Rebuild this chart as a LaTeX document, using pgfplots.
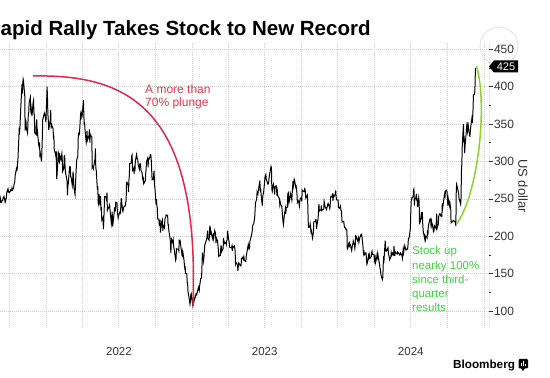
\documentclass[border=0pt]{standalone}
\usepackage{pgfplots}
\pgfplotsset{compat=1.18}
\usepgfplotslibrary{dateplot}
\usepackage{fontspec}
\setmainfont{Liberation Sans}
\definecolor{redarc}{RGB}{226,40,72}
\definecolor{redtxt}{RGB}{232,56,72}
\definecolor{greenarc}{RGB}{140,212,40}
\definecolor{greentxt}{RGB}{60,214,60}
\definecolor{tickgray}{RGB}{51,51,51}
\definecolor{gridgray}{RGB}{205,205,205}
\begin{document}
\begin{tikzpicture}[x=1pt,y=1pt]
\path[use as bounding box] (0,0) rectangle (550,378);
% faint share icon behind the axis
\draw[black!10, line width=1pt] (499,332) circle (19);
\draw[black!14, line width=0.8pt] (494,327) -- (501,334) (497.5,334) -- (501,334) -- (501,330.5);
\begin{axis}[
  at={(0pt,50pt)}, anchor=south west,
  scale only axis, width=489pt, height=286pt,
  date coordinates in=x,
  xmin=2021-09-07, xmax=2025-01-14,
  ymin=77.3, ymax=459.7,
  xtick={2022-07-02,2023-07-02,2024-07-02},
  xticklabels={2022,2023,2024},
  minor xtick={2021-10-01,2022-01-01,2022-04-01,2022-07-01,2022-10-01,2023-01-01,2023-04-01,2023-07-01,2023-10-01,2024-01-01,2024-04-01,2024-07-01,2024-10-01,2025-01-01},
  xminorgrids=true, xmajorgrids=false,
  ytick={100,150,...,450},
  minor ytick={125,175,...,425},
  ymajorgrids=true,
  grid style={gridgray, line width=0.6pt, dash pattern=on 0.8pt off 1.2pt},
  minor grid style={gridgray, line width=0.6pt, dash pattern=on 0.8pt off 1.2pt},
  axis line style={draw=none},
  ytick pos=right, yticklabel pos=right,
  tick align=outside,
  major tick length=3.5pt, minor tick length=2pt,
  xtick style={draw=none},
  ytick style={tickgray, line width=0.6pt},
  /pgf/number format/assume math mode=true,
  yticklabel style={font=\fontsize{12}{14}\selectfont, text=tickgray, xshift=-2pt},
  xticklabel style={font=\fontsize{11.5}{14}\selectfont, text=tickgray, yshift=-12pt},
]
\addplot[black, line width=1pt] coordinates {
(2021-09-07,244.7) (2021-09-08,250.7) (2021-09-09,248.4) (2021-09-10,245.4) (2021-09-13,247.6) (2021-09-14,248.4) (2021-09-15,251.9) (2021-09-16,252.2) (2021-09-17,253.3) (2021-09-20,245.4) (2021-09-21,246.9) (2021-09-22,250.6) (2021-09-23,251.1) (2021-09-24,258.6) (2021-09-27,263.3) (2021-09-28,259.6) (2021-09-29,260.1) (2021-09-30,258.5)
(2021-10-01,258.4) (2021-10-04,261.8) (2021-10-05,260.8) (2021-10-06,261.2) (2021-10-07,264.5) (2021-10-08,261.8) (2021-10-11,264.2) (2021-10-12,268.7) (2021-10-13,271.1) (2021-10-14,272.7) (2021-10-15,281.0) (2021-10-18,290.0) (2021-10-19,288.1) (2021-10-20,288.6) (2021-10-21,298.0) (2021-10-22,303.2) (2021-10-25,341.6) (2021-10-26,339.5) (2021-10-27,345.9) (2021-10-28,359.0) (2021-10-29,371.3)
(2021-11-01,402.9) (2021-11-02,390.7) (2021-11-03,404.6) (2021-11-04,410.0) (2021-11-05,407.4) (2021-11-08,387.6) (2021-11-09,341.2) (2021-11-10,356.0) (2021-11-11,354.5) (2021-11-12,344.5) (2021-11-15,337.8) (2021-11-16,351.6) (2021-11-17,363.0) (2021-11-18,365.5) (2021-11-19,379.0) (2021-11-22,385.6) (2021-11-23,369.0) (2021-11-24,372.0) (2021-11-26,360.6) (2021-11-29,379.0) (2021-11-30,381.6)
(2021-12-01,365.0) (2021-12-02,361.5) (2021-12-03,338.3) (2021-12-06,336.3) (2021-12-07,350.6) (2021-12-08,356.3) (2021-12-09,334.6) (2021-12-10,339.0) (2021-12-13,322.1) (2021-12-14,319.5) (2021-12-15,325.3) (2021-12-16,309.0) (2021-12-17,310.9) (2021-12-20,300.0) (2021-12-21,313.8) (2021-12-22,331.9) (2021-12-23,355.7) (2021-12-27,364.6) (2021-12-28,362.8) (2021-12-29,362.1) (2021-12-30,356.8) (2021-12-31,352.3)
(2022-01-03,399.9) (2022-01-04,383.2) (2022-01-05,362.7) (2022-01-06,354.9) (2022-01-07,342.3) (2022-01-10,352.7) (2022-01-11,354.8) (2022-01-12,368.7) (2022-01-13,344.0) (2022-01-14,349.9) (2022-01-18,343.5) (2022-01-19,331.9) (2022-01-20,332.7) (2022-01-21,314.6) (2022-01-24,310.9) (2022-01-25,306.6) (2022-01-26,313.3) (2022-01-27,276.4) (2022-01-28,282.1) (2022-01-31,312.2)
(2022-02-01,310.4) (2022-02-02,301.9) (2022-02-03,297.0) (2022-02-04,307.8) (2022-02-07,302.6) (2022-02-08,307.3) (2022-02-09,310.7) (2022-02-10,301.9) (2022-02-11,286.7) (2022-02-14,291.4) (2022-02-15,307.5) (2022-02-16,307.8) (2022-02-17,292.1) (2022-02-18,285.7) (2022-02-22,273.8) (2022-02-23,254.7) (2022-02-24,266.8) (2022-02-25,270.0) (2022-02-28,290.1)
(2022-03-01,288.1) (2022-03-02,293.3) (2022-03-03,279.8) (2022-03-04,279.4) (2022-03-07,268.2) (2022-03-08,274.8) (2022-03-09,286.3) (2022-03-10,279.4) (2022-03-11,265.1) (2022-03-14,255.5) (2022-03-15,267.4) (2022-03-16,280.1) (2022-03-17,290.5) (2022-03-18,301.8) (2022-03-21,307.1) (2022-03-22,331.3) (2022-03-23,338.0) (2022-03-24,337.9) (2022-03-25,336.9) (2022-03-28,363.9) (2022-03-29,366.5) (2022-03-30,364.7) (2022-03-31,359.2)
(2022-04-01,361.5) (2022-04-04,381.8) (2022-04-05,363.8) (2022-04-06,348.6) (2022-04-07,352.4) (2022-04-08,341.8) (2022-04-11,325.3) (2022-04-12,329.0) (2022-04-13,340.8) (2022-04-14,328.3) (2022-04-18,334.8) (2022-04-19,343.0) (2022-04-20,325.3) (2022-04-21,336.3) (2022-04-22,335.0) (2022-04-25,332.7) (2022-04-26,292.1) (2022-04-27,293.6) (2022-04-28,292.3) (2022-04-29,290.3)
(2022-05-02,301.0) (2022-05-03,303.1) (2022-05-04,317.5) (2022-05-05,291.1) (2022-05-06,288.6) (2022-05-09,262.4) (2022-05-10,266.7) (2022-05-11,244.7) (2022-05-12,242.7) (2022-05-13,256.5) (2022-05-16,241.5) (2022-05-17,253.9) (2022-05-18,236.1) (2022-05-19,236.9) (2022-05-20,221.3) (2022-05-23,225.0) (2022-05-24,209.4) (2022-05-25,219.6) (2022-05-26,235.9) (2022-05-27,253.2) (2022-05-31,252.8)
(2022-06-01,246.8) (2022-06-02,258.3) (2022-06-03,234.5) (2022-06-06,238.3) (2022-06-07,238.9) (2022-06-08,241.9) (2022-06-09,239.9) (2022-06-10,233.0) (2022-06-13,216.8) (2022-06-14,220.9) (2022-06-15,233.0) (2022-06-16,213.1) (2022-06-17,216.8) (2022-06-21,237.0) (2022-06-22,236.1) (2022-06-23,235.1) (2022-06-24,245.7) (2022-06-27,244.9) (2022-06-28,232.7) (2022-06-29,228.5) (2022-06-30,224.5)
(2022-07-01,227.3) (2022-07-05,233.1) (2022-07-06,231.7) (2022-07-07,244.5) (2022-07-08,250.8) (2022-07-11,234.3) (2022-07-12,233.1) (2022-07-13,237.0) (2022-07-14,238.3) (2022-07-15,240.1) (2022-07-18,240.5) (2022-07-19,245.5) (2022-07-20,247.4) (2022-07-21,271.7) (2022-07-22,272.2) (2022-07-25,268.4) (2022-07-26,258.9) (2022-07-27,274.8) (2022-07-28,280.9) (2022-07-29,297.1)
(2022-08-01,297.3) (2022-08-02,300.6) (2022-08-03,307.4) (2022-08-04,308.7) (2022-08-05,288.2) (2022-08-08,290.9) (2022-08-09,283.3) (2022-08-10,294.4) (2022-08-11,286.6) (2022-08-12,300.0) (2022-08-15,309.3) (2022-08-16,306.6) (2022-08-17,303.0) (2022-08-18,303.0) (2022-08-19,296.1) (2022-08-22,289.9) (2022-08-23,296.5) (2022-08-24,297.1) (2022-08-25,296.1) (2022-08-26,288.1) (2022-08-29,284.8) (2022-08-30,277.7) (2022-08-31,275.6)
(2022-09-01,277.2) (2022-09-02,270.2) (2022-09-06,274.4) (2022-09-07,283.7) (2022-09-08,289.3) (2022-09-09,299.7) (2022-09-12,304.4) (2022-09-13,292.1) (2022-09-14,302.6) (2022-09-15,303.8) (2022-09-16,303.4) (2022-09-19,309.1) (2022-09-20,308.7) (2022-09-21,300.8) (2022-09-22,288.6) (2022-09-23,275.3) (2022-09-26,276.0) (2022-09-27,282.9) (2022-09-28,287.7) (2022-09-29,268.2) (2022-09-30,265.3)
(2022-10-03,242.4) (2022-10-04,249.4) (2022-10-05,240.8) (2022-10-06,238.1) (2022-10-07,223.1) (2022-10-10,223.0) (2022-10-11,215.4) (2022-10-12,216.5) (2022-10-13,221.7) (2022-10-14,205.0) (2022-10-17,219.4) (2022-10-18,220.2) (2022-10-19,222.0) (2022-10-20,207.3) (2022-10-21,214.4) (2022-10-24,211.3) (2022-10-25,222.4) (2022-10-26,224.6) (2022-10-27,225.1) (2022-10-28,228.5) (2022-10-31,227.5)
(2022-11-01,227.8) (2022-11-02,215.0) (2022-11-03,215.3) (2022-11-04,207.5) (2022-11-07,197.1) (2022-11-08,191.3) (2022-11-09,177.6) (2022-11-10,190.7) (2022-11-11,196.0) (2022-11-14,191.0) (2022-11-15,194.4) (2022-11-16,186.9) (2022-11-17,183.2) (2022-11-18,180.2) (2022-11-21,167.9) (2022-11-22,169.9) (2022-11-23,183.2) (2022-11-25,182.9) (2022-11-28,182.9) (2022-11-29,180.8) (2022-11-30,194.7)
(2022-12-01,194.7) (2022-12-02,194.9) (2022-12-05,182.5) (2022-12-06,179.8) (2022-12-07,174.0) (2022-12-08,173.4) (2022-12-09,179.1) (2022-12-12,167.8) (2022-12-13,161.0) (2022-12-14,156.8) (2022-12-15,157.7) (2022-12-16,150.2) (2022-12-19,149.9) (2022-12-20,137.8) (2022-12-21,137.6) (2022-12-22,125.4) (2022-12-23,123.2) (2022-12-27,109.1) (2022-12-28,112.7) (2022-12-29,121.8) (2022-12-30,123.2)
(2023-01-03,108.1) (2023-01-04,113.6) (2023-01-05,110.3) (2023-01-06,113.1) (2023-01-09,119.8) (2023-01-10,118.9) (2023-01-11,123.2) (2023-01-12,123.6) (2023-01-13,122.4) (2023-01-17,131.5) (2023-01-18,128.8) (2023-01-19,127.2) (2023-01-20,133.4) (2023-01-23,143.8) (2023-01-24,143.9) (2023-01-25,144.4) (2023-01-26,160.3) (2023-01-27,177.9) (2023-01-30,166.7) (2023-01-31,173.2)
(2023-02-01,181.4) (2023-02-02,188.3) (2023-02-03,190.0) (2023-02-06,194.8) (2023-02-07,196.9) (2023-02-08,201.3) (2023-02-09,207.3) (2023-02-10,196.9) (2023-02-13,194.6) (2023-02-14,209.3) (2023-02-15,214.2) (2023-02-16,202.0) (2023-02-17,208.3) (2023-02-21,197.4) (2023-02-22,200.9) (2023-02-23,202.1) (2023-02-24,196.9) (2023-02-27,207.6) (2023-02-28,205.7)
(2023-03-01,202.8) (2023-03-02,190.9) (2023-03-03,197.8) (2023-03-06,193.8) (2023-03-07,187.7) (2023-03-08,182.0) (2023-03-09,172.9) (2023-03-10,173.4) (2023-03-13,174.5) (2023-03-14,183.3) (2023-03-15,180.5) (2023-03-16,184.1) (2023-03-17,180.1) (2023-03-20,183.3) (2023-03-21,197.6) (2023-03-22,191.2) (2023-03-23,192.2) (2023-03-24,190.4) (2023-03-27,191.8) (2023-03-28,189.2) (2023-03-29,193.9) (2023-03-30,195.3) (2023-03-31,207.5)
(2023-04-03,194.8) (2023-04-04,192.6) (2023-04-05,185.5) (2023-04-06,185.1) (2023-04-10,184.5) (2023-04-11,186.8) (2023-04-12,180.5) (2023-04-13,185.9) (2023-04-14,185.0) (2023-04-17,187.0) (2023-04-18,184.3) (2023-04-19,180.6) (2023-04-20,163.0) (2023-04-21,165.1) (2023-04-24,162.6) (2023-04-25,160.7) (2023-04-26,153.8) (2023-04-27,160.2) (2023-04-28,164.3)
(2023-05-01,161.8) (2023-05-02,160.3) (2023-05-03,160.6) (2023-05-04,161.2) (2023-05-05,170.1) (2023-05-08,171.8) (2023-05-09,169.2) (2023-05-10,168.5) (2023-05-11,172.1) (2023-05-12,168.0) (2023-05-15,166.4) (2023-05-16,166.5) (2023-05-17,173.9) (2023-05-18,176.9) (2023-05-19,180.1) (2023-05-22,188.9) (2023-05-23,185.8) (2023-05-24,182.9) (2023-05-25,184.5) (2023-05-26,193.2) (2023-05-30,201.2) (2023-05-31,203.9)
(2023-06-01,207.5) (2023-06-02,214.0) (2023-06-05,217.6) (2023-06-06,221.3) (2023-06-07,224.6) (2023-06-08,234.9) (2023-06-09,244.4) (2023-06-12,249.8) (2023-06-13,258.7) (2023-06-14,256.8) (2023-06-15,255.9) (2023-06-16,260.5) (2023-06-20,274.5) (2023-06-21,259.5) (2023-06-22,264.6) (2023-06-23,256.6) (2023-06-26,241.1) (2023-06-27,250.2) (2023-06-28,256.2) (2023-06-29,257.5) (2023-06-30,261.8)
(2023-07-03,279.8) (2023-07-05,282.5) (2023-07-06,276.5) (2023-07-07,274.4) (2023-07-10,269.6) (2023-07-11,269.8) (2023-07-12,272.0) (2023-07-13,277.9) (2023-07-14,281.4) (2023-07-17,290.4) (2023-07-18,293.3) (2023-07-19,291.3) (2023-07-20,262.9) (2023-07-21,260.0) (2023-07-24,269.1) (2023-07-25,265.3) (2023-07-26,264.4) (2023-07-27,255.7) (2023-07-28,266.4) (2023-07-31,267.4)
(2023-08-01,261.1) (2023-08-02,254.1) (2023-08-03,259.3) (2023-08-04,253.9) (2023-08-07,251.5) (2023-08-08,249.7) (2023-08-09,242.2) (2023-08-10,245.3) (2023-08-11,242.7) (2023-08-14,239.8) (2023-08-15,233.0) (2023-08-16,225.6) (2023-08-17,219.2) (2023-08-18,215.5) (2023-08-21,231.3) (2023-08-22,233.2) (2023-08-23,236.9) (2023-08-24,230.0) (2023-08-25,238.6) (2023-08-28,238.8) (2023-08-29,257.2) (2023-08-30,256.9) (2023-08-31,258.1)
(2023-09-01,245.0) (2023-09-05,256.5) (2023-09-06,251.9) (2023-09-07,251.5) (2023-09-08,248.5) (2023-09-11,273.6) (2023-09-12,267.5) (2023-09-13,271.3) (2023-09-14,276.0) (2023-09-15,274.4) (2023-09-18,265.3) (2023-09-19,266.5) (2023-09-20,262.6) (2023-09-21,255.7) (2023-09-22,244.9) (2023-09-25,247.0) (2023-09-26,244.1) (2023-09-27,240.5) (2023-09-28,246.4) (2023-09-29,250.2)
(2023-10-02,251.6) (2023-10-03,246.5) (2023-10-04,261.2) (2023-10-05,260.1) (2023-10-06,260.5) (2023-10-09,259.7) (2023-10-10,263.6) (2023-10-11,263.0) (2023-10-12,258.9) (2023-10-13,251.1) (2023-10-16,253.9) (2023-10-17,254.9) (2023-10-18,242.7) (2023-10-19,220.1) (2023-10-20,212.0) (2023-10-23,212.1) (2023-10-24,216.5) (2023-10-25,212.4) (2023-10-26,205.8) (2023-10-27,207.3) (2023-10-30,197.4) (2023-10-31,200.8)
(2023-11-01,205.7) (2023-11-02,218.5) (2023-11-03,220.0) (2023-11-06,219.3) (2023-11-07,222.2) (2023-11-08,222.1) (2023-11-09,210.0) (2023-11-10,214.7) (2023-11-13,223.7) (2023-11-14,237.4) (2023-11-15,242.8) (2023-11-16,233.6) (2023-11-17,234.3) (2023-11-20,235.6) (2023-11-21,241.2) (2023-11-22,234.2) (2023-11-24,235.5) (2023-11-27,236.1) (2023-11-28,246.7) (2023-11-29,244.1) (2023-11-30,240.1)
(2023-12-01,238.8) (2023-12-04,235.6) (2023-12-05,238.7) (2023-12-06,239.4) (2023-12-07,242.6) (2023-12-08,243.8) (2023-12-11,239.7) (2023-12-12,237.0) (2023-12-13,239.3) (2023-12-14,251.1) (2023-12-15,253.5) (2023-12-18,252.5) (2023-12-19,257.2) (2023-12-20,247.1) (2023-12-21,254.5) (2023-12-22,252.5) (2023-12-26,256.6) (2023-12-27,261.4) (2023-12-28,253.2) (2023-12-29,248.5)
(2024-01-02,248.4) (2024-01-03,238.5) (2024-01-04,237.9) (2024-01-05,237.5) (2024-01-08,240.5) (2024-01-09,235.0) (2024-01-10,233.9) (2024-01-11,227.2) (2024-01-12,218.9) (2024-01-16,219.9) (2024-01-17,215.6) (2024-01-18,211.9) (2024-01-19,212.2) (2024-01-22,208.8) (2024-01-23,209.1) (2024-01-24,207.8) (2024-01-25,182.6) (2024-01-26,183.3) (2024-01-29,190.9) (2024-01-30,191.6) (2024-01-31,187.3)
(2024-02-01,188.9) (2024-02-02,187.9) (2024-02-05,181.1) (2024-02-06,185.1) (2024-02-07,187.6) (2024-02-08,189.6) (2024-02-09,193.6) (2024-02-12,188.1) (2024-02-13,184.0) (2024-02-14,188.7) (2024-02-15,200.5) (2024-02-16,200.0) (2024-02-20,193.8) (2024-02-21,194.8) (2024-02-22,197.4) (2024-02-23,192.0) (2024-02-26,199.4) (2024-02-27,199.7) (2024-02-28,202.0) (2024-02-29,201.9)
(2024-03-01,202.6) (2024-03-04,188.1) (2024-03-05,180.7) (2024-03-06,176.5) (2024-03-07,178.7) (2024-03-08,175.3) (2024-03-11,177.8) (2024-03-12,177.5) (2024-03-13,169.5) (2024-03-14,162.5) (2024-03-15,163.6) (2024-03-18,173.8) (2024-03-19,171.3) (2024-03-20,175.7) (2024-03-21,172.8) (2024-03-22,170.8) (2024-03-25,172.6) (2024-03-26,177.7) (2024-03-27,179.8) (2024-03-28,175.8)
(2024-04-01,175.2) (2024-04-02,166.6) (2024-04-03,168.4) (2024-04-04,171.1) (2024-04-05,164.9) (2024-04-08,173.0) (2024-04-09,176.9) (2024-04-10,171.8) (2024-04-11,174.6) (2024-04-12,171.1) (2024-04-15,161.5) (2024-04-16,157.1) (2024-04-17,155.5) (2024-04-18,149.9) (2024-04-19,147.1) (2024-04-22,142.1) (2024-04-23,144.7) (2024-04-24,162.1) (2024-04-25,170.2) (2024-04-26,168.3) (2024-04-29,194.1) (2024-04-30,183.3)
(2024-05-01,180.0) (2024-05-02,180.0) (2024-05-03,181.2) (2024-05-06,184.8) (2024-05-07,177.8) (2024-05-08,174.7) (2024-05-09,172.0) (2024-05-10,168.5) (2024-05-13,171.9) (2024-05-14,177.6) (2024-05-15,174.0) (2024-05-16,174.8) (2024-05-17,177.5) (2024-05-20,175.0) (2024-05-21,186.6) (2024-05-22,180.1) (2024-05-23,173.7) (2024-05-24,179.2) (2024-05-28,176.8) (2024-05-29,176.2) (2024-05-30,178.8) (2024-05-31,178.1)
(2024-06-03,176.3) (2024-06-04,174.8) (2024-06-05,175.0) (2024-06-06,177.9) (2024-06-07,177.5) (2024-06-10,173.8) (2024-06-11,170.7) (2024-06-12,177.3) (2024-06-13,182.5) (2024-06-14,178.0) (2024-06-17,187.4) (2024-06-18,184.9) (2024-06-20,181.6) (2024-06-21,183.0) (2024-06-24,182.6) (2024-06-25,187.4) (2024-06-26,196.4) (2024-06-27,197.4) (2024-06-28,197.9)
(2024-07-01,209.9) (2024-07-02,231.3) (2024-07-03,246.4) (2024-07-05,251.5) (2024-07-08,252.9) (2024-07-09,262.3) (2024-07-10,263.3) (2024-07-11,241.0) (2024-07-12,248.2) (2024-07-15,252.6) (2024-07-16,256.6) (2024-07-17,248.5) (2024-07-18,249.2) (2024-07-19,239.2) (2024-07-22,251.5) (2024-07-23,246.4) (2024-07-24,216.0) (2024-07-25,220.3) (2024-07-26,219.8) (2024-07-29,232.1) (2024-07-30,222.6) (2024-07-31,232.1)
(2024-08-01,216.9) (2024-08-02,207.7) (2024-08-05,198.9) (2024-08-06,200.6) (2024-08-07,191.8) (2024-08-08,198.8) (2024-08-09,200.0) (2024-08-12,197.5) (2024-08-13,207.8) (2024-08-14,201.4) (2024-08-15,214.1) (2024-08-16,216.1) (2024-08-19,222.7) (2024-08-20,223.3) (2024-08-21,223.3) (2024-08-22,210.7) (2024-08-23,220.3) (2024-08-26,213.2) (2024-08-27,209.2) (2024-08-28,205.8) (2024-08-29,206.3) (2024-08-30,214.1)
(2024-09-03,210.6) (2024-09-04,219.4) (2024-09-05,230.2) (2024-09-06,210.7) (2024-09-09,216.3) (2024-09-10,226.2) (2024-09-11,228.1) (2024-09-12,229.8) (2024-09-13,230.3) (2024-09-16,226.8) (2024-09-17,227.9) (2024-09-18,227.2) (2024-09-19,243.9) (2024-09-20,238.3) (2024-09-23,250.0) (2024-09-24,254.3) (2024-09-25,257.0) (2024-09-26,254.2) (2024-09-27,260.5) (2024-09-30,261.6)
(2024-10-01,258.0) (2024-10-02,249.0) (2024-10-03,240.7) (2024-10-04,250.1) (2024-10-07,240.8) (2024-10-08,244.5) (2024-10-09,241.1) (2024-10-10,238.8) (2024-10-11,217.8) (2024-10-14,219.2) (2024-10-15,219.6) (2024-10-16,221.3) (2024-10-17,220.9) (2024-10-18,220.7) (2024-10-21,218.9) (2024-10-22,218.0) (2024-10-23,213.7) (2024-10-24,260.5) (2024-10-25,269.2) (2024-10-28,262.5) (2024-10-29,259.5) (2024-10-30,257.6) (2024-10-31,249.9)
(2024-11-01,249.0) (2024-11-04,242.8) (2024-11-05,251.4) (2024-11-06,288.5) (2024-11-07,296.9) (2024-11-08,321.2) (2024-11-11,350.0) (2024-11-12,328.5) (2024-11-13,330.2) (2024-11-14,311.2) (2024-11-15,320.7) (2024-11-18,338.7) (2024-11-19,346.0) (2024-11-20,342.0) (2024-11-21,339.6) (2024-11-22,352.6) (2024-11-25,338.6) (2024-11-26,338.2) (2024-11-27,332.9) (2024-11-29,345.2)
(2024-12-02,357.1) (2024-12-03,351.4) (2024-12-04,357.9) (2024-12-05,369.5) (2024-12-06,389.2) (2024-12-09,389.8) (2024-12-10,401.0) (2024-12-11,424.8)
};
\draw[black!65, line width=1pt] (rel axis cs:1,0) -- (rel axis cs:1,1);
\draw[redarc, line width=1.5pt] (rel axis cs:0.0675,0.8811) .. controls (rel axis cs:0.2658,0.8881) and (rel axis cs:0.4090,0.7622) .. (rel axis cs:0.3947,0.0804);
\draw[greenarc, line width=1.5pt] (rel axis cs:0.9335,0.3636) .. controls (rel axis cs:0.9775,0.4650) and (rel axis cs:0.9980,0.7797) .. (rel axis cs:0.9744,0.9161);
\end{axis}
% title (as visible in the cropped reference)
\node[anchor=base west, inner sep=0, font=\fontsize{20.5}{24}\selectfont\bfseries] at (0.5,342.5) {apid Rally Takes Stock to New Record};
% annotations
\node[anchor=base west, inner sep=0, text=redtxt, font=\fontsize{12}{14}\selectfont] at (145,284.5) {A more than};
\node[anchor=base west, inner sep=0, text=redtxt, font=\fontsize{12}{14}\selectfont] at (145,271) {70\% plunge};
\node[anchor=base west, inner sep=0, text=greentxt, font=\fontsize{11.5}{14}\selectfont] at (412,123) {Stock up};
\node[anchor=base west, inner sep=0, text=greentxt, font=\fontsize{11.5}{14}\selectfont] at (412,108.7) {nearky 100\%};
\node[anchor=base west, inner sep=0, text=greentxt, font=\fontsize{11.5}{14}\selectfont] at (412,94.4) {since third-};
\node[anchor=base west, inner sep=0, text=greentxt, font=\fontsize{11.5}{14}\selectfont] at (412,80) {quarter};
\node[anchor=base west, inner sep=0, text=greentxt, font=\fontsize{11.5}{14}\selectfont] at (412,66.5) {results};
% axis unit label
\node[rotate=-90, inner sep=0, text=tickgray, font=\fontsize{13}{15}\selectfont] at (523,192) {US dollar};
% last-value tag
\fill[black] (489,311.5) -- (494,317.5) -- (518,317.5) -- (518,305.5) -- (494,305.5) -- cycle;
\node[text=white, inner sep=0, font=\fontsize{11}{13}\selectfont] at (506,311.5) {425};
% source
\node[anchor=base west, inner sep=0, font=\fontsize{11.7}{14}\selectfont\bfseries] at (453,9) {Bloomberg};
\fill[black, rounded corners=1.2pt] (518.5,9.5) rectangle (528,19);
\fill[black] (521,9.8) -- (523,7) -- (525,9.8) -- cycle;
\fill[white] (520.8,11.5) rectangle (521.8,14.5);
\fill[white] (522.8,11.5) rectangle (523.8,16.5);
\fill[white] (524.8,11.5) rectangle (525.8,13.5);
\end{tikzpicture}
\end{document}
